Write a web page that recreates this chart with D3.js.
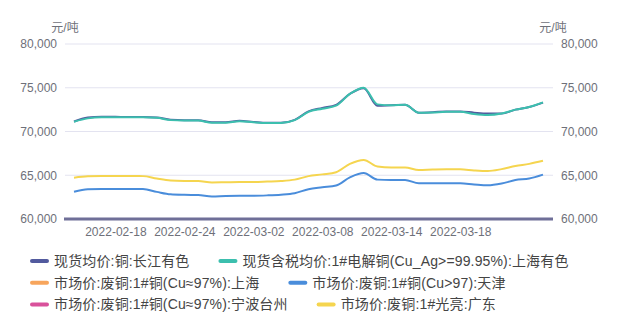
<!DOCTYPE html>
<html><head><meta charset="utf-8">
<script src="https://cdn.jsdelivr.net/npm/d3@7"></script>
<style>
html,body{margin:0;padding:0;background:#fff;}
svg{display:block;}
text{font-family:"Liberation Sans","Noto Sans CJK SC",sans-serif;}
</style></head>
<body>
<svg id="chart" width="618" height="326"></svg>
<script>
// ---- data ----
const xCount = 35;
const xLabelIndex = [3, 8, 13, 18, 23, 28];
const xLabels = ["2022-02-18","2022-02-24","2022-03-02","2022-03-08","2022-03-14","2022-03-18"];
const yTicks = [60000, 65000, 70000, 75000, 80000];
const seriesNames = [
  "现货均价:铜:长江有色",
  "现货含税均价:1#电解铜(Cu_Ag>=99.95%):上海有色",
  "市场价:废铜:1#铜(Cu≈97%):上海",
  "市场价:废铜:1#铜(Cu>97):天津",
  "市场价:废铜:1#铜(Cu≈97%):宁波台州",
  "市场价:废铜:1#光亮:广东"
];
const seriesColors = ["#525a9e","#3cbfae","#f7a55c","#4a8ddb","#d9519b","#f5d54f"];
const changjiang = [71150,71600,71700,71680,71650,71650,71600,71350,71300,71300,71050,71050,71220,71100,71000,71000,71330,72300,72700,73050,74300,74950,72950,73000,73050,72150,72200,72300,72300,72150,72050,72050,72500,72800,73300];
const shanghaiYouse = [71120,71500,71620,71620,71620,71620,71560,71300,71250,71250,71000,71010,71180,71050,70970,70970,71300,72250,72600,72950,74300,75000,73100,73000,73050,72150,72180,72250,72260,72000,71880,72050,72500,72800,73330];
const scrapShanghai = [];
const scrapTianjin = [63120,63400,63430,63430,63430,63420,63100,62820,62760,62740,62580,62640,62660,62660,62700,62780,62950,63400,63620,63820,64750,65250,64500,64460,64460,64080,64080,64080,64080,63950,63850,64050,64450,64620,65070];
const scrapNingbo = [];
const brightGuangdong = [64720,64880,64910,64910,64910,64900,64620,64400,64350,64340,64170,64200,64230,64230,64280,64340,64500,64900,65100,65350,66300,66750,66000,65900,65900,65600,65650,65680,65680,65550,65480,65700,66050,66300,66650];
const seriesData = [changjiang, shanghaiYouse, scrapShanghai, scrapTianjin, scrapNingbo, brightGuangdong];
const unitLabel = "元/吨";

// ---- layout ----
const svg = d3.select("#chart");
svg.append("rect").attr("width",618).attr("height",326).attr("fill","#fff");
const gridL = 65, gridR = 553, gridT = 44, gridB = 219;

const x = d3.scalePoint().domain(d3.range(xCount)).range([74, 543]);
const y = d3.scaleLinear().domain([60000, 80000]).range([gridB, gridT]);

// grid lines
svg.append("g").selectAll("line").data(yTicks.filter(t => t > 60000)).join("line")
  .attr("x1", gridL).attr("x2", gridR)
  .attr("y1", d => y(d)).attr("y2", d => y(d))
  .attr("stroke", "#e3e3f0").attr("stroke-width", 1);

const fmt = d3.format(",");
// left axis
const yAxisL = svg.append("g").attr("transform", `translate(${gridL},0)`)
  .call(d3.axisLeft(y).tickValues(yTicks).tickFormat(fmt).tickSize(0).tickPadding(8));
yAxisL.select(".domain").remove();
yAxisL.selectAll("text").attr("fill", "#6e7079").attr("font-size", 12);
// right axis
const yAxisR = svg.append("g").attr("transform", `translate(${gridR},0)`)
  .call(d3.axisRight(y).tickValues(yTicks).tickFormat(fmt).tickSize(0).tickPadding(8));
yAxisR.select(".domain").remove();
yAxisR.selectAll("text").attr("fill", "#6e7079").attr("font-size", 12);

// unit labels
svg.append("text").attr("x", 65).attr("y", 32).attr("text-anchor", "middle")
  .attr("font-size", 12).attr("fill", "#6e7079").text(unitLabel);
svg.append("text").attr("x", 553).attr("y", 32).attr("text-anchor", "middle")
  .attr("font-size", 12).attr("fill", "#6e7079").text(unitLabel);

// x axis
const xAxis = svg.append("g").attr("transform", `translate(0,${gridB})`)
  .call(d3.axisBottom(x).tickValues(xLabelIndex)
    .tickFormat(i => xLabels[xLabelIndex.indexOf(i)]).tickSize(0).tickPadding(8));
xAxis.select(".domain").remove();
xAxis.selectAll("text").attr("fill", "#6e7079").attr("font-size", 12);

// lines
const line = d3.line().defined(d => d != null)
  .x((d, i) => x(i)).y(d => y(d)).curve(d3.curveMonotoneX);
seriesData.forEach((arr, k) => {
  if (!arr.length) return;
  svg.append("path").datum(arr).attr("d", line)
    .attr("fill", "none").attr("stroke", seriesColors[k]).attr("stroke-width", 2)
    .attr("stroke-linejoin", "round");
});

// baseline (bottom axis line)
svg.append("line").attr("x1", 64).attr("x2", gridR).attr("y1", gridB).attr("y2", gridB)
  .attr("stroke", "#6f6f98").attr("stroke-width", 3);

// legend (flow layout)
const leg = svg.append("g");
let lx = 30, ly = 261;
const maxR = 600, rowH = 21.7;
seriesNames.forEach((name, k) => {
  const g = leg.append("g");
  const t = g.append("text").attr("font-size", 14).attr("fill", "#444")
    .attr("dominant-baseline", "central").attr("letter-spacing", 0.15).text(name);
  const w = 24 + t.node().getComputedTextLength();
  if (lx + w > maxR && lx > 30) { lx = 30; ly += rowH; }
  g.attr("transform", `translate(${lx},${ly})`);
  g.insert("line", "text").attr("x1", 2).attr("x2", 17).attr("y1", 0).attr("y2", 0)
    .attr("stroke", seriesColors[k]).attr("stroke-width", 4).attr("stroke-linecap", "round");
  t.attr("x", 24);
  lx += w + 29;
});
</script>
</body></html>
